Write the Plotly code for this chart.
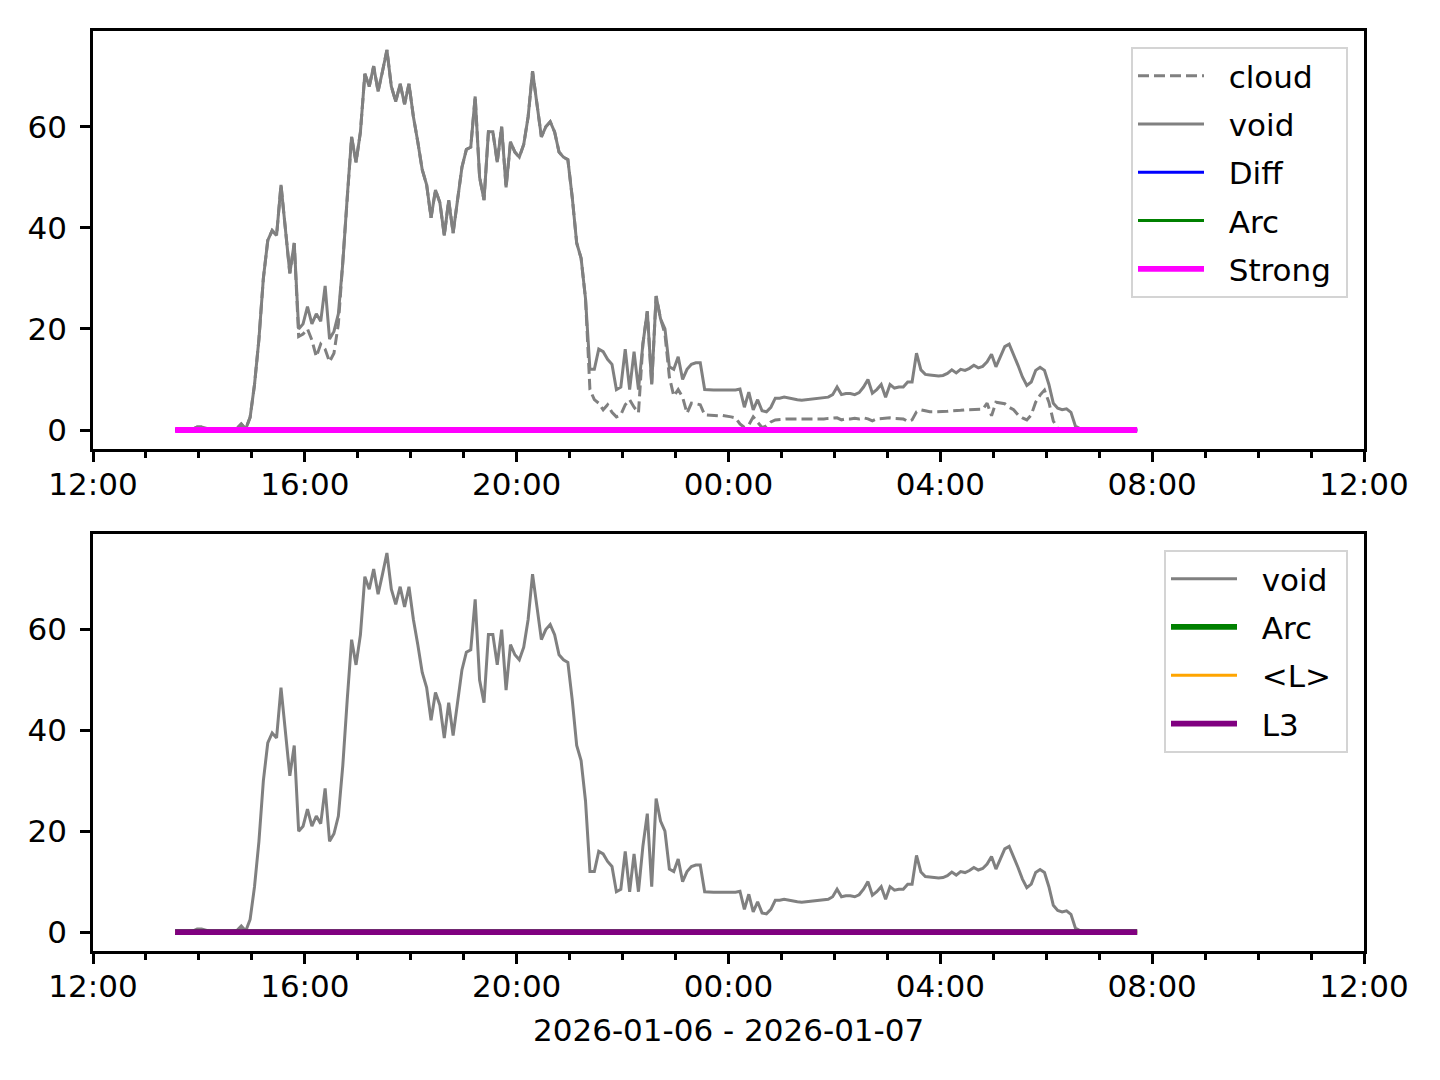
import plotly.graph_objects as go
import pandas as pd

# ---------------- data ----------------
start_time = "2026-01-06 13:33"
step = "5min"

void = [
    0, 0, 0.1, 0.1, 0.2, 0.6, 0.6, 0.3, 0.1, 0,
    0, 0, 0, 0.1, 0.3, 1.2, 0.2, 2.5, 9, 18,
    30, 37.5, 39.5, 38.5, 48.5, 40, 31, 37, 20, 21,
    24.4, 21, 23, 21.5, 28.5, 18, 19.5, 23, 33, 46,
    58, 53, 59, 70.5, 68, 72, 67, 71, 75.2, 68,
    65, 68.5, 64.5, 68.5, 62, 57, 51.5, 48.5, 42, 47.5,
    45, 38.5, 45.5, 39, 46, 52, 55.5, 56, 66, 50,
    45.5, 59, 59, 53, 60, 48, 57, 55, 54, 56.5,
    62, 71, 64.5, 58, 60, 61, 59, 55, 54, 53.5,
    46, 37, 34, 26, 12, 12, 16, 15.5, 14, 13,
    8, 8.5, 16, 8, 15.5, 8, 17, 23.5, 9, 26.5,
    22, 20, 12.5, 12, 14.5, 10, 12, 13, 13.3, 13.3,
    8, 7.9, 7.9, 7.9, 7.9, 8, 7.9, 7.9, 8.1, 4.5,
    7.5, 4, 6, 3.8, 3.6, 4.5, 6.3, 6.3, 6.5, 6.3,
    6.2, 6, 5.9, 6, 6.1, 6.2, 6.3, 6.4, 6.5, 7,
    8.5, 7, 7.2, 7.2, 7, 7.4, 8.5, 10, 7.3, 8,
    9, 6.5, 9, 8.3, 8.5, 8.5, 9.5, 9.5, 15.2, 11.9,
    11, 10.9, 10.8, 10.7, 10.8, 11.2, 11.9, 11.3, 12, 11.8,
    12.2, 12.8, 12.3, 12.6, 13.5, 15, 12.5, 14.5, 16.5, 17,
    15, 12.8, 10.5, 8.8, 9.5, 11.8, 12.4, 11.8, 9, 5.3,
    4.3, 4, 4.2, 3.5, 0.8, 0.3, 0.1, 0, 0, 0,
    0, 0, 0, 0, 0, 0, 0, 0, 0,
]

cloud = [
    0, 0, 0.1, 0.1, 0.2, 0.6, 0.6, 0.3, 0.1, 0,
    0, 0, 0, 0.1, 0.3, 1.2, 0.2, 2.5, 9, 18,
    30, 37.5, 39.5, 38.5, 48.5, 40, 31, 37, 18.5, 19,
    20, 17.8, 14.5, 17, 16, 13.5, 15.2, 21, 33, 46,
    58, 53, 59, 70.5, 68, 72, 67, 71, 75.2, 68,
    65, 68.5, 64.5, 68.5, 62, 57, 51.5, 48.5, 42, 47.5,
    45, 38.5, 45.5, 39, 46, 52, 55.5, 56, 66, 50,
    45.5, 59, 59, 53, 60, 48, 57, 55, 54, 56.5,
    62, 71, 64.5, 58, 60, 61, 59, 55, 54, 53.5,
    46, 37, 34, 26, 8, 6, 5.3, 4, 5, 3.5,
    2.6, 3, 5, 6, 4.5, 3.4, 17, 23.5, 9, 26.5,
    22, 19, 10.5, 6.7, 8, 6.5, 3.3, 5.3, 5.2, 5,
    3, 2.9, 2.8, 2.8, 2.9, 2.8, 2.6, 2.4, 1.2, 0.5,
    1, 2.6, 1.5, 0.5, 0.8, 1.6, 2, 2.1, 2.2, 2.2,
    2.2, 2.2, 2.1, 2.2, 2.2, 2.2, 2.2, 2.2, 2.3, 2.4,
    2.4, 2, 2.2, 2.2, 2.3, 2.2, 2.4, 2.2, 1.8, 2.2,
    2.3, 2.4, 2.4, 2.3, 2.2, 2.2, 1.7, 2, 3.6, 4,
    3.8, 3.6, 3.6, 3.6, 3.7, 3.7, 3.8, 3.8, 3.9, 4,
    4, 4, 4.1, 4.1, 5.3, 2.8, 5.5, 5.4, 5.2, 4.5,
    4, 3, 2.4, 2, 3, 5.5, 6.9, 7.9, 5.5, 1.8,
    0.3, 0, 0, 0, 0, 0, 0, 0, 0, 0,
    0, 0, 0, 0, 0, 0, 0, 0, 0,
]

N = len(void)
diff = [0.0] * N
arc = [0.0] * N
strong = [0.0] * N
mean_l = [0.0] * N
l3 = [0.0] * N

x_range = ["2026-01-06 12:00", "2026-01-07 12:00"]
y_ticks = [0, 20, 40, 60]
x_label = "2026-01-06 - 2026-01-07"

times = pd.date_range(start_time, periods=N, freq=step)

# ---------------- figure ----------------
W, H = 1440, 1080
FONT = "DejaVu Sans"
FS = 31
LEAD = "&nbsp;&nbsp;"
TRAIL = "&nbsp;"

fig = go.Figure()

def add(y, name, color, width, xa, ya, leg, dash=None):
    fig.add_trace(go.Scatter(
        x=times, y=y, name=LEAD + name + TRAIL, mode="lines",
        line=dict(color=color, width=width, dash=dash),
        xaxis=xa, yaxis=ya, legend=leg, legendgroup=leg + name,
        hoverinfo="skip",
    ))

THIN, THICK = 3.0, 5.8
add(cloud, "cloud", "#808080", THIN, "x", "y", "legend", dash="11px,5px")
add(void, "void", "#808080", THIN, "x", "y", "legend")
add(diff, "Diff", "#0000ff", THIN, "x", "y", "legend")
add(arc, "Arc", "#008000", THIN, "x", "y", "legend")
add(strong, "Strong", "#ff00ff", THICK, "x", "y", "legend")

add(void, "void", "#808080", THIN, "x2", "y2", "legend2")
add(arc, "Arc", "#008000", THICK, "x2", "y2", "legend2")
add(mean_l, "&lt;L&gt;", "#ffa500", THIN, "x2", "y2", "legend2")
add(l3, "L3", "#800080", THICK, "x2", "y2", "legend2")

xdom = [93 / W, 1364 / W]
top_dom = [1 - 449 / H, 1 - 31 / H]
bot_dom = [1 - 951 / H, 1 - 534 / H]

tickfont = dict(family=FONT, size=FS, color="black")

def xaxis_cfg(anchor):
    return dict(
        domain=xdom, anchor=anchor, type="date", range=x_range,
        tick0=x_range[0], dtick=4 * 3600000, tickformat="%H:%M",
        ticks="outside", ticklen=10, tickwidth=2.5, tickcolor="black",
        showline=True, linecolor="black", linewidth=2.5, mirror=True,
        showgrid=False, zeroline=False, tickfont=tickfont, automargin=False,
        minor=dict(dtick=3600000, tick0=x_range[0], ticks="outside",
                   ticklen=6, tickwidth=2.5, tickcolor="black", showgrid=False),
        ticklabelstandoff=-4,
    )

def yaxis_cfg(anchor, dom):
    return dict(
        domain=dom, anchor=anchor, range=[-3.76, 78.96],
        tickvals=y_ticks, ticktext=[str(v) for v in y_ticks],
        ticks="outside", ticklen=10, tickwidth=2.5, tickcolor="black",
        showline=True, linecolor="black", linewidth=2.5, mirror=True,
        showgrid=False, zeroline=False, tickfont=tickfont, automargin=False,
        ticklabelstandoff=7,
    )

legend_common = dict(
    xanchor="right", yanchor="top",
    bgcolor="rgba(255,255,255,0.8)", bordercolor="#d4d4d4", borderwidth=2,
    font=dict(family=FONT, size=FS, color="black"),
    tracegroupgap=5, itemwidth=66,
)

fig.update_layout(
    width=W, height=H,
    margin=dict(l=0, r=0, t=0, b=0, autoexpand=False),
    paper_bgcolor="white", plot_bgcolor="white",
    showlegend=True,
    xaxis=xaxis_cfg("y"),
    yaxis=yaxis_cfg("x", top_dom),
    xaxis2=xaxis_cfg("y2"),
    yaxis2=yaxis_cfg("x2", bot_dom),
    legend=dict(x=1348 / W, y=1 - 47 / H, **legend_common),
    legend2=dict(x=1348 / W, y=1 - 550 / H, **legend_common),
    annotations=[dict(
        text=x_label, x=(xdom[0] + xdom[1]) / 2, y=1 - 1030 / H,
        xref="paper", yref="paper", showarrow=False,
        xanchor="center", yanchor="middle",
        font=dict(family=FONT, size=FS, color="black"),
    )],
)

fig.write_html("out.html", config={"displayModeBar": False},
               post_script="document.body.style.margin='0';")
